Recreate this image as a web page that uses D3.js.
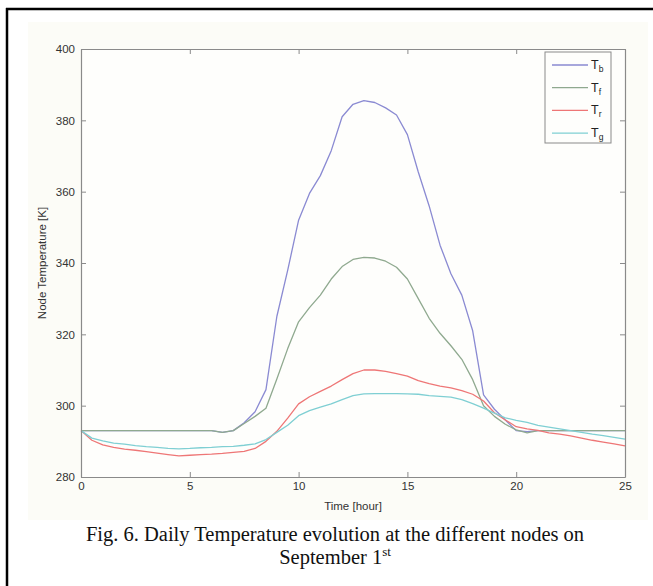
<!DOCTYPE html>
<html>
<head>
<meta charset="utf-8">
<script src="https://cdn.jsdelivr.net/npm/d3@7"></script>
<style>
  body { margin: 0; background: #fff; }
  svg { display: block; }
</style>
</head>
<body>
<div id="chart"></div>
<script>
"use strict";

// Time grid [hour] and node temperatures [K].
const hours = [0, 0.5, 1, 1.5, 2, 2.5, 3, 3.5, 4, 4.5, 5, 5.5, 6, 6.5, 7, 7.5, 8, 8.5, 9, 9.5,
  10, 10.5, 11, 11.5, 12, 12.5, 13, 13.5, 14, 14.5, 15, 15.5, 16, 16.5, 17, 17.5, 18, 18.5, 19, 19.5,
  20, 20.5, 21, 21.5, 22, 22.5, 23, 23.5, 24, 24.5, 25];

const Tb = [293, 293, 293, 293, 293, 293, 293, 293, 293, 293, 293, 293, 293, 292.5, 293, 295.2, 298.3, 304.5, 325, 338,
  352, 359.5, 364.5, 371.5, 381, 384.5, 385.5, 385, 383.5, 381.5, 376, 365.5, 356, 345, 337, 331, 321, 303, 299, 296,
  293, 292.7, 293, 293, 293, 293, 293, 293, 293, 293, 293];

const Tf = [293, 293, 293, 293, 293, 293, 293, 293, 293, 293, 293, 293, 293, 292.5, 293, 295, 297, 299.3, 307.5, 316,
  323.5, 327.5, 331, 335.5, 339, 341, 341.6, 341.4, 340.5, 338.8, 335.5, 330, 324.5, 320.3, 316.8, 313, 307.3, 300, 297, 294.8,
  293.2, 292.4, 293, 293, 293, 293, 293, 293, 293, 293, 293];

const Tr = [293, 290.3, 289, 288.3, 287.8, 287.5, 287.1, 286.7, 286.3, 285.9, 286.1, 286.3, 286.4, 286.6, 286.9, 287.2, 288, 290, 292.8, 296.5,
  300.5, 302.5, 304, 305.5, 307.3, 309, 310, 310, 309.6, 309, 308.3, 307, 306.2, 305.5, 305, 304.2, 303.2, 301.3, 298, 296,
  294.1, 293.5, 293.1, 292.4, 292, 291.5, 290.9, 290.3, 289.8, 289.3, 288.7];

const Tg = [293, 290.9, 290.1, 289.5, 289.2, 288.8, 288.5, 288.3, 288, 287.9, 288, 288.2, 288.3, 288.5, 288.6, 288.9, 289.3, 290.5, 292.5, 294.5,
  297.2, 298.6, 299.6, 300.5, 301.7, 302.8, 303.3, 303.4, 303.4, 303.4, 303.3, 303.2, 302.8, 302.6, 302.4, 301.7, 300.6, 299.3, 297.9, 296.6,
  295.9, 295.3, 294.5, 294, 293.5, 293, 292.5, 292, 291.6, 291.1, 290.6];

const seriesNames = ["b", "f", "r", "g"];
const seriesValues = [Tb, Tf, Tr, Tg];
const seriesColors = ["#8a8ad2", "#8fa98f", "#ee7676", "#7fcfd3"];

const xTicks = [0, 5, 10, 15, 20, 25];
const yTicks = [280, 300, 320, 340, 360, 380, 400];

const W = 653, H = 586;
const plot = {left: 81, right: 625, top: 49, bottom: 477};

const svg = d3.select("#chart").append("svg")
    .attr("width", W)
    .attr("height", H);

// Faint cream backdrop of the exported figure.
svg.append("rect")
    .attr("x", 28).attr("y", 22)
    .attr("width", 620).attr("height", 498)
    .attr("fill", "#fcfcf7");

// Page frame (only left and top edges are visible in the crop).
svg.append("line")
    .attr("x1", 7).attr("x2", 7).attr("y1", 8).attr("y2", H)
    .attr("stroke", "#000").attr("stroke-width", 2.5);
svg.append("line")
    .attr("x1", 6).attr("x2", W).attr("y1", 9).attr("y2", 9)
    .attr("stroke", "#000").attr("stroke-width", 2.5);

const x = d3.scaleLinear().domain([0, 25]).range([plot.left, plot.right]);
const y = d3.scaleLinear().domain([280, 400]).range([plot.bottom, plot.top]);

svg.append("rect")
    .attr("x", plot.left).attr("y", plot.top)
    .attr("width", plot.right - plot.left).attr("height", plot.bottom - plot.top)
    .attr("fill", "#fefefc");

// Series lines.
const line = d3.line()
    .x((d, i) => x(hours[i]))
    .y(d => y(d));

seriesValues.forEach((vals, k) => {
    svg.append("path")
        .datum(vals)
        .attr("fill", "none")
        .attr("stroke", seriesColors[k])
        .attr("stroke-width", 1.3)
        .attr("stroke-linejoin", "round")
        .attr("d", line);
});

// Axes, MATLAB style: box with inward ticks on all sides.
const axisFont = "'Liberation Sans', Arial, sans-serif";
const axisColor = "#8a8a8a";

const gx = svg.append("g")
    .attr("transform", "translate(0," + plot.bottom + ")")
    .call(d3.axisBottom(x).tickValues(xTicks).tickSizeInner(-5).tickSizeOuter(0).tickPadding(5));
const gy = svg.append("g")
    .attr("transform", "translate(" + plot.left + ",0)")
    .call(d3.axisLeft(y).tickValues(yTicks).tickSizeInner(-5).tickSizeOuter(0).tickPadding(6));
const gxt = svg.append("g")
    .attr("transform", "translate(0," + plot.top + ")")
    .call(d3.axisTop(x).tickValues(xTicks).tickSizeInner(-5).tickSizeOuter(0).tickFormat(""));
const gyr = svg.append("g")
    .attr("transform", "translate(" + plot.right + ",0)")
    .call(d3.axisRight(y).tickValues(yTicks).tickSizeInner(-5).tickSizeOuter(0).tickFormat(""));

[gx, gy, gxt, gyr].forEach(g => {
    g.select(".domain").attr("stroke", axisColor).attr("stroke-width", 1.2);
    g.selectAll(".tick line").attr("stroke", axisColor);
    g.selectAll(".tick text")
        .attr("fill", "#333")
        .style("font-family", axisFont)
        .style("font-size", "11.5px");
});

svg.append("text")
    .attr("x", (plot.left + plot.right) / 2)
    .attr("y", 510)
    .attr("text-anchor", "middle")
    .attr("fill", "#333")
    .style("font-family", axisFont)
    .style("font-size", "11.5px")
    .text("Time [hour]");

svg.append("text")
    .attr("transform", "translate(46," + (plot.top + plot.bottom) / 2 + ") rotate(-90)")
    .attr("text-anchor", "middle")
    .attr("fill", "#333")
    .style("font-family", axisFont)
    .style("font-size", "11.5px")
    .text("Node Temperature [K]");

// Legend.
const legend = svg.append("g");
legend.append("rect")
    .attr("x", 545).attr("y", 52)
    .attr("width", 66).attr("height", 91)
    .attr("fill", "#fefefc")
    .attr("stroke", "#8a8a8a")
    .attr("stroke-width", 1);

seriesNames.forEach((name, k) => {
    const ly = 65 + k * 22.7;
    legend.append("line")
        .attr("x1", 552).attr("x2", 588)
        .attr("y1", ly).attr("y2", ly)
        .attr("stroke", seriesColors[k])
        .attr("stroke-width", 1.3);
    const t = legend.append("text")
        .attr("x", 591).attr("y", ly + 4)
        .attr("fill", "#222")
        .style("font-family", axisFont)
        .style("font-size", "12.5px");
    t.append("tspan").text("T");
    t.append("tspan").attr("dy", 3).style("font-size", "8.5px").text(name);
});

// Caption.
const capFont = "'Liberation Serif', 'Times New Roman', serif";
svg.append("text")
    .attr("x", 335).attr("y", 541)
    .attr("text-anchor", "middle")
    .attr("fill", "#111")
    .style("font-family", capFont)
    .style("font-size", "20.5px")
    .text("Fig. 6. Daily Temperature evolution at the different nodes on");
const line2 = svg.append("text")
    .attr("x", 335).attr("y", 564)
    .attr("text-anchor", "middle")
    .attr("fill", "#111")
    .style("font-family", capFont)
    .style("font-size", "20.5px");
line2.append("tspan").text("September 1");
line2.append("tspan").attr("dy", -8).style("font-size", "13px").text("st");
</script>
</body>
</html>
